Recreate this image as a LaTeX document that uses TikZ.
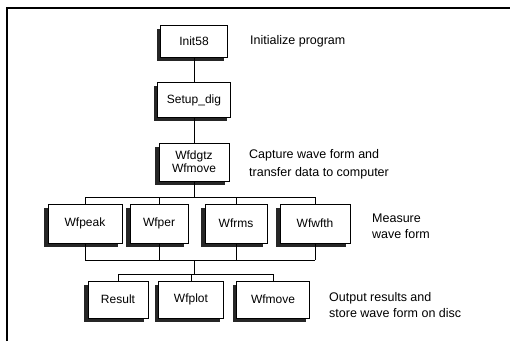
\documentclass[tikz,border=0pt]{standalone}
\usepackage{fontspec}
\setmainfont{Liberation Sans}
\usetikzlibrary{shadows}

\begin{document}
\begin{tikzpicture}[x=1pt, y=-1pt,
    prog/.style={draw, line width=0.6pt, fill=white, inner sep=0pt, minimum height=37pt, align=center,
        font=\fontsize{12}{14}\selectfont,
        drop shadow={shadow xshift=-4pt, shadow yshift=-3.5pt, fill=black!85, opacity=1}},
    note/.style={anchor=base west, align=left, inner sep=0pt, font=\fontsize{12.5}{16}\selectfont},
    bus/.style={line width=0.7pt}]
\useasboundingbox (0,0) rectangle (510,341);
\draw[line width=1.6pt] (7,341) -- (7,8) -- (510,8);

% main chain
\node[prog, minimum width=67pt, minimum height=32pt] (init) at (194,41) {Init58};
\node[prog, minimum width=73pt, minimum height=35pt] (setup) at (194,100) {Setup\_dig};
\node[prog, minimum width=70pt, minimum height=38pt] (capture) at (194,162) {Wfdgtz\\[-1pt]Wfmove};
\draw[bus] (init) -- (setup);
\draw[bus] (setup) -- (capture);

% measure row
\foreach \name/\x/\w in {Wfpeak/85/74, Wfper/159/58, Wfrms/236/62, Wfwfth/315/70}
    \node[prog, minimum width=\w pt, minimum height=39pt] (\name) at (\x,223.5) {\name};

% output row
\foreach \name/\x/\w in {Result/118/60, Wfplot/191/65, Wfmove/273/73}
    \node[prog, minimum width=\w pt] (\name) at (\x,299.5) {\name};

% buses
\coordinate (bus1) at (194,197);
\coordinate (bus2) at (194,260);
\coordinate (bus3) at (194,274);
\draw[bus] (capture) -- (bus1);
\draw[bus] (Wfpeak.north |- bus1) -- (Wfwfth.north |- bus1);
\draw[bus] (Wfpeak.south |- bus2) -- (Wfwfth.south |- bus2);
\foreach \name in {Wfpeak, Wfper, Wfrms, Wfwfth} {
    \draw[bus] (\name.north |- bus1) -- (\name.north);
    \draw[bus] (\name.south) -- (\name.south |- bus2);
}
\draw[bus] (bus2) -- (bus3);
\draw[bus] (Result.north |- bus3) -- (Wfmove.north |- bus3);
\foreach \name in {Result, Wfplot, Wfmove}
    \draw[bus] (\name.north |- bus3) -- (\name.north);

% descriptions (base = last line)
\node[note] (tinit) at (250,44) {Initialize program};
\node[note] (tcapture) at (249,176) {Capture wave form and\\[2pt]transfer data to computer};
\node[note] (tmeasure) at (372,238) {Measure\\wave form};
\node[note] (toutput) at (329,317) {Output results and\\store wave form on disc};

\end{tikzpicture}
\end{document}
